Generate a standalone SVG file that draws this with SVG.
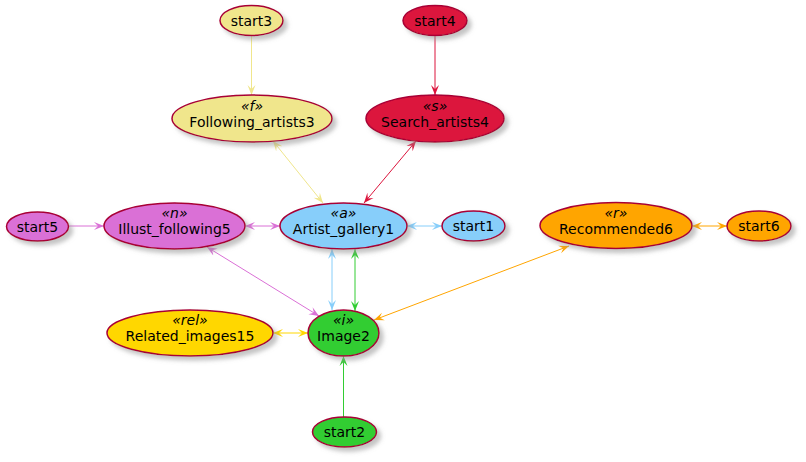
<svg xmlns="http://www.w3.org/2000/svg" width="806" height="462" viewBox="0 0 806 462">
<style>
.n ellipse{stroke:#A80036;stroke-width:1.5;filter:url(#sh)}
text{font-family:"DejaVu Sans","Liberation Sans",sans-serif;font-size:14px;fill:#000;text-anchor:middle}
text.st{font-style:italic}
#edges line{stroke-width:1;fill:none}
</style>
<defs>
<filter id="sh" x="-20%" y="-20%" width="150%" height="160%">
<feGaussianBlur in="SourceAlpha" stdDeviation="2"/>
<feOffset dx="4" dy="4" result="b"/>
<feColorMatrix in="b" type="matrix" values="0 0 0 0 0.3  0 0 0 0 0.3  0 0 0 0 0.3  0 0 0 0.55 0" result="c"/>
<feMerge><feMergeNode in="c"/><feMergeNode in="SourceGraphic"/></feMerge>
</filter>
<marker id="mk" viewBox="0 0 10 10" refX="10" refY="5" markerWidth="10" markerHeight="10" markerUnits="userSpaceOnUse" orient="auto-start-reverse"><path d="M0,1 L10,5 L0,9 L4,5 Z" fill="#F0E68C"/></marker>
<marker id="mc" viewBox="0 0 10 10" refX="10" refY="5" markerWidth="10" markerHeight="10" markerUnits="userSpaceOnUse" orient="auto-start-reverse"><path d="M0,1 L10,5 L0,9 L4,5 Z" fill="#DC143C"/></marker>
<marker id="mo" viewBox="0 0 10 10" refX="10" refY="5" markerWidth="10" markerHeight="10" markerUnits="userSpaceOnUse" orient="auto-start-reverse"><path d="M0,1 L10,5 L0,9 L4,5 Z" fill="#DA70D6"/></marker>
<marker id="ms" viewBox="0 0 10 10" refX="10" refY="5" markerWidth="10" markerHeight="10" markerUnits="userSpaceOnUse" orient="auto-start-reverse"><path d="M0,1 L10,5 L0,9 L4,5 Z" fill="#87CEFA"/></marker>
<marker id="mg" viewBox="0 0 10 10" refX="10" refY="5" markerWidth="10" markerHeight="10" markerUnits="userSpaceOnUse" orient="auto-start-reverse"><path d="M0,1 L10,5 L0,9 L4,5 Z" fill="#32CD32"/></marker>
<marker id="mr" viewBox="0 0 10 10" refX="10" refY="5" markerWidth="10" markerHeight="10" markerUnits="userSpaceOnUse" orient="auto-start-reverse"><path d="M0,1 L10,5 L0,9 L4,5 Z" fill="#FFA500"/></marker>
<marker id="md" viewBox="0 0 10 10" refX="10" refY="5" markerWidth="10" markerHeight="10" markerUnits="userSpaceOnUse" orient="auto-start-reverse"><path d="M0,1 L10,5 L0,9 L4,5 Z" fill="#FFD700"/></marker>
</defs>
<rect width="806" height="462" fill="#FFFFFF"/>

<g id="edges">
<line x1="251.5" y1="36" x2="251.5" y2="95" stroke="#F0E68C" marker-end="url(#mk)"/>
<line x1="435" y1="36" x2="435" y2="95" stroke="#DC143C" marker-end="url(#mc)"/>
<line x1="273" y1="141" x2="323" y2="203" stroke="#F0E68C" marker-start="url(#mk)" marker-end="url(#mk)"/>
<line x1="416" y1="141" x2="364" y2="203" stroke="#DC143C" marker-start="url(#mc)" marker-end="url(#mc)"/>
<line x1="69" y1="226" x2="104" y2="226" stroke="#DA70D6" marker-end="url(#mo)"/>
<line x1="245" y1="226" x2="280" y2="226" stroke="#DA70D6" marker-start="url(#mo)" marker-end="url(#mo)"/>
<line x1="407" y1="226" x2="442" y2="226" stroke="#87CEFA" marker-start="url(#ms)" marker-end="url(#ms)"/>
<line x1="692" y1="226" x2="727" y2="226" stroke="#FFA500" marker-start="url(#mr)" marker-end="url(#mr)"/>
<line x1="207" y1="247" x2="319" y2="316" stroke="#DA70D6" marker-start="url(#mo)" marker-end="url(#mo)"/>
<line x1="332" y1="249" x2="332" y2="310" stroke="#87CEFA" marker-start="url(#ms)" marker-end="url(#ms)"/>
<line x1="355" y1="249" x2="355" y2="311" stroke="#32CD32" marker-start="url(#mg)" marker-end="url(#mg)"/>
<line x1="569" y1="246" x2="374" y2="320" stroke="#FFA500" marker-start="url(#mr)" marker-end="url(#mr)"/>
<line x1="273" y1="333" x2="308" y2="333" stroke="#FFD700" marker-start="url(#md)" marker-end="url(#md)"/>
<line x1="343.5" y1="417" x2="343.5" y2="356" stroke="#32CD32" marker-end="url(#mg)"/>
</g>

<g id="start3" class="n"><ellipse cx="251.5" cy="20.5" rx="31.5" ry="15" fill="#F0E68C"/><text x="251.5" y="25.5">start3</text></g>
<g id="start4" class="n"><ellipse cx="435" cy="20.5" rx="32" ry="15" fill="#DC143C"/><text x="435" y="25.5">start4</text></g>
<g id="Following_artists3" class="n"><ellipse cx="252" cy="118.5" rx="80" ry="23.5" fill="#F0E68C"/><text class="st" x="252" y="110.5">«f»</text><text x="252" y="126.5">Following_artists3</text></g>
<g id="Search_artists4" class="n"><ellipse cx="435" cy="118.5" rx="69" ry="23.5" fill="#DC143C"/><text class="st" x="435" y="110.5">«s»</text><text x="435" y="126.5">Search_artists4</text></g>
<g id="start5" class="n"><ellipse cx="37.5" cy="226.5" rx="31" ry="14.5" fill="#DA70D6"/><text x="37.5" y="231.5">start5</text></g>
<g id="Illust_following5" class="n"><ellipse cx="174.5" cy="226" rx="70.5" ry="23" fill="#DA70D6"/><text class="st" x="174.5" y="218">«n»</text><text x="174.5" y="234">Illust_following5</text></g>
<g id="Artist_gallery1" class="n"><ellipse cx="343.5" cy="226" rx="63.5" ry="23" fill="#87CEFA"/><text class="st" x="343.5" y="218">«a»</text><text x="343.5" y="234">Artist_gallery1</text></g>
<g id="start1" class="n"><ellipse cx="473.5" cy="226" rx="31.5" ry="15" fill="#87CEFA"/><text x="473.5" y="231">start1</text></g>
<g id="Recommended6" class="n"><ellipse cx="616" cy="225.5" rx="76" ry="23" fill="#FFA500"/><text class="st" x="616" y="217.5">«r»</text><text x="616" y="233.5">Recommended6</text></g>
<g id="start6" class="n"><ellipse cx="759" cy="226" rx="32" ry="15" fill="#FFA500"/><text x="759" y="231">start6</text></g>
<g id="Related_images15" class="n"><ellipse cx="190" cy="333" rx="83" ry="23" fill="#FFD700"/><text class="st" x="190" y="325">«rel»</text><text x="190" y="341">Related_images15</text></g>
<g id="Image2" class="n"><ellipse cx="343.5" cy="333" rx="35.5" ry="23" fill="#32CD32"/><text class="st" x="343.5" y="325">«i»</text><text x="343.5" y="341">Image2</text></g>
<g id="start2" class="n"><ellipse cx="344.5" cy="432" rx="32" ry="15" fill="#32CD32"/><text x="344.5" y="437">start2</text></g>
</svg>
